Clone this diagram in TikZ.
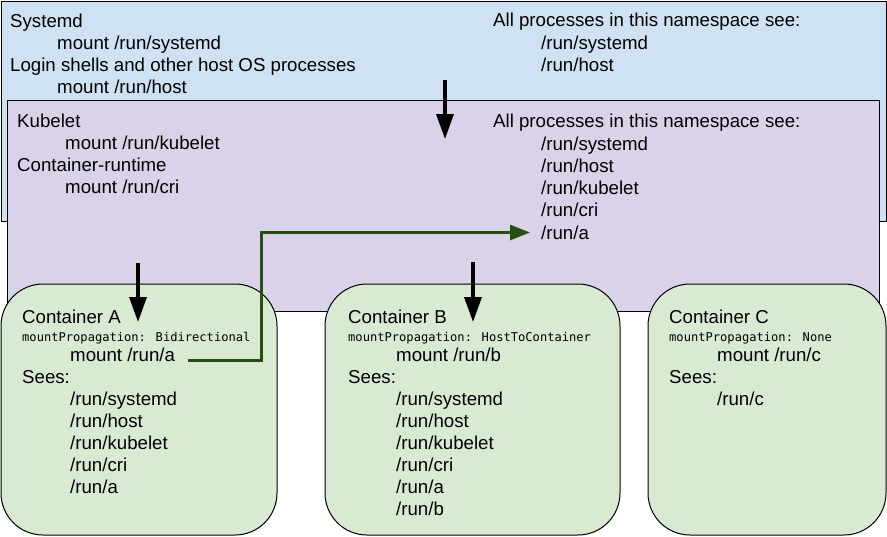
\documentclass[tikz,border=0pt]{standalone}
\usepackage{fontspec}
\usepackage{tikz}
\usetikzlibrary{arrows.meta}
\setmainfont{Liberation Sans}
\newfontfamily\codefont{DejaVu Sans Mono}
\definecolor{hostblue}{HTML}{CFE2F3}
\definecolor{kubepurple}{HTML}{D9D2E9}
\definecolor{ctrgreen}{HTML}{D9EAD3}
\definecolor{propgreen}{HTML}{274E13}

\begin{document}
\begin{tikzpicture}[x=1pt,y=-1pt,
			txt/.style={anchor=base west,inner sep=0pt,
				font={\fontsize{18.67}{22}\selectfont}},
			mono/.style={anchor=base west,inner sep=0pt,
				font={\codefont\fontsize{12.1}{14}\selectfont}},
			ns box/.style={draw=black,line width=1pt},
			ctr box/.style={draw=black,line width=1pt,fill=ctrgreen,rounded corners=42pt},
			down/.style={-{Triangle[width=17pt,length=25pt]},line width=3.5pt},
			prop/.style={-{Triangle[width=15pt,length=20pt]},line width=3pt,draw=propgreen}]

			\useasboundingbox (0,0) rectangle (887,536);

			% host namespace
			\draw[ns box,fill=hostblue] (1,1) rectangle (886,221);
			\node[txt] (sysd) at (10,27) {Systemd};
			\node[txt] (sysdm) at (57,49.3) {mount /run/systemd};
			\node[txt] (login) at (10,71.5) {Login shells and other host OS processes};
			\node[txt] (loginm) at (57,93.5) {mount /run/host};
			\node[txt] (hsee) at (493,26.7) {All processes in this namespace see:};
			\foreach \p [count=\i] in {systemd,host}
				\node[txt] (hs\i) at (541,26.7+22.3*\i) {/run/\p};

			% kubelet namespace
			\draw[ns box,fill=kubepurple] (7,100) rectangle (879,311);
			\node[txt] (kube) at (17,127.3) {Kubelet};
			\node[txt] (kubem) at (65,149.3) {mount /run/kubelet};
			\node[txt] (cri) at (17,171.5) {Container-runtime};
			\node[txt] (crim) at (65,193.5) {mount /run/cri};
			\node[txt] (ksee) at (493,127.7) {All processes in this namespace see:};
			\foreach \p [count=\i] in {systemd,host,kubelet,cri,a}
				\node[txt] (ks\i) at (541,127.7+22.3*\i) {/run/\p};

			\coordinate (hout) at (445,80);
			\coordinate (kin) at (445,139);
			\draw[down] (hout) -- (kin);

			% containers
			\draw[ctr box] (1,284) rectangle (277,535);
			\draw[ctr box] (325,284) rectangle (620,535);
			\draw[ctr box] (648,284) rectangle (886,535);

			\node[txt] (ca) at (22,323.3) {Container A};
			\node[mono] (camp) at (22,341) {mountPropagation: Bidirectional};
			\node[txt] (cam) at (70,361.7) {mount /run/a};
			\node[txt] (casee) at (22,383.5) {Sees:};
			\foreach \p [count=\i] in {systemd,host,kubelet,cri,a}
				\node[txt] (cas\i) at (70,383.5+22*\i) {/run/\p};

			\node[txt] (cb) at (348,323.3) {Container B};
			\node[mono] (cbmp) at (348,341) {mountPropagation: HostToContainer};
			\node[txt] (cbm) at (396,361.7) {mount /run/b};
			\node[txt] (cbsee) at (348,383.5) {Sees:};
			\foreach \p [count=\i] in {systemd,host,kubelet,cri,a,b}
				\node[txt] (cbs\i) at (396,383.5+22*\i) {/run/\p};

			\node[txt] (cc) at (669,323.3) {Container C};
			\node[mono] (ccmp) at (669,341) {mountPropagation: None};
			\node[txt] (ccm) at (717,361.7) {mount /run/c};
			\node[txt] (ccsee) at (669,383.5) {Sees:};
			\node[txt] (ccs1) at (717,405.5) {/run/c};

			\coordinate (kaout) at (138,263);
			\coordinate (ain) at (138,322);
			\coordinate (kbout) at (473,262);
			\coordinate (bin) at (473,322);
			\draw[down] (kaout) -- (ain);
			\draw[down] (kbout) -- (bin);

			% bidirectional propagation back up
			\coordinate (jog) at (261,0);
			\draw[prop] ([xshift=13pt,yshift=1.7pt]cam.base east) -| (jog |- ks5.west)
				-- ([xshift=-11pt]ks5.west);
		\end{tikzpicture}
\end{document}
